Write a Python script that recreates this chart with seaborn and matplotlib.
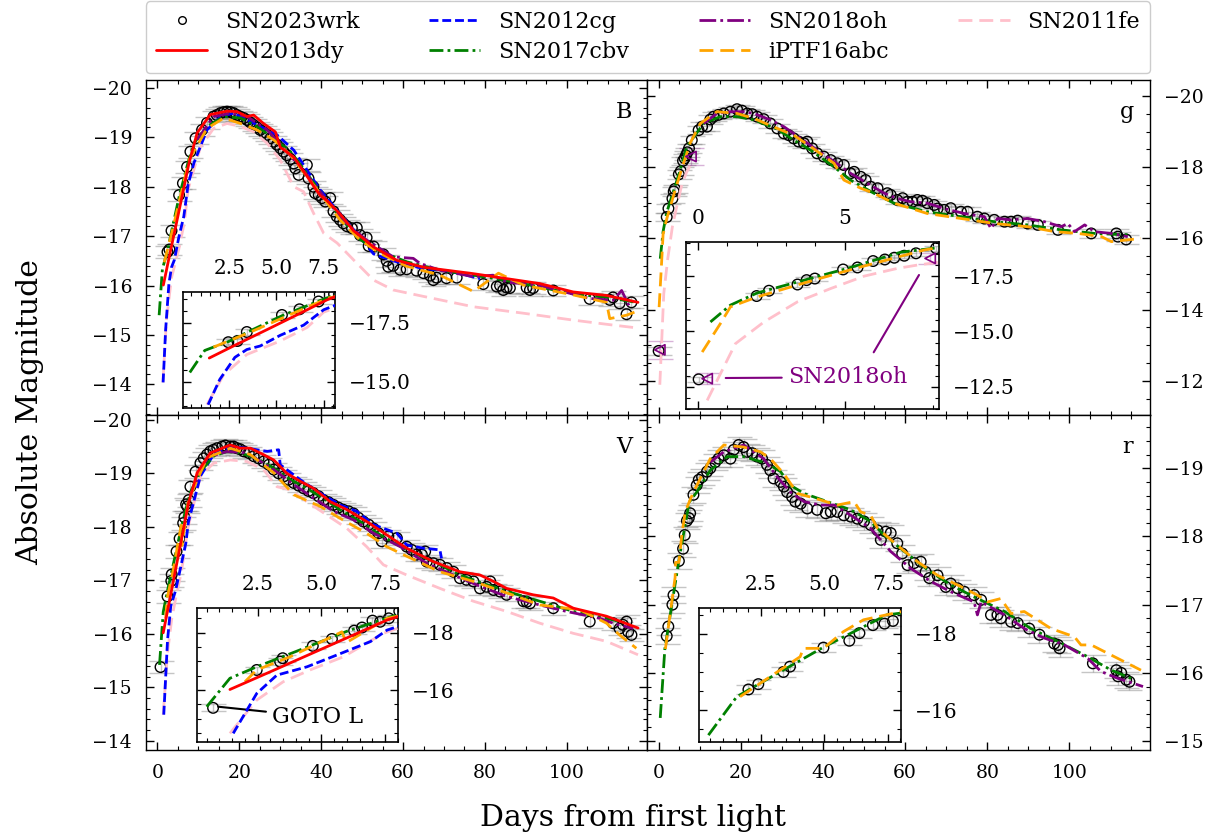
import numpy as np
import pandas as pd
import matplotlib
matplotlib.use("Agg")
import matplotlib.pyplot as plt
import seaborn as sns
from matplotlib.lines import Line2D
from matplotlib.ticker import MultipleLocator, AutoMinorLocator

sns.set_style("ticks", rc={
    "axes.edgecolor": "black", "xtick.color": "black", "ytick.color": "black",
    "text.color": "black", "axes.labelcolor": "black",
    "xtick.direction": "in", "ytick.direction": "in",
    "xtick.top": True, "ytick.right": True,
})
plt.rcParams["font.family"] = ["DejaVu Serif"]
plt.rcParams["mathtext.fontset"] = "dejavuserif"

# ---------------------------------------------------------------- B band
B_wrk_day = [2.45, 2.93, 3.43, 5.29, 6.22, 7.23, 8.05, 9.3, 10.9, 12.1, 13.7, 14.5, 15.4, 16.2, 17.0,
             17.8, 18.6, 19.4, 20.2, 21.1, 21.9, 22.7, 23.5, 24.3, 25.1, 26.0, 26.8, 27.6, 28.4, 29.2,
             30.0, 30.8, 31.6, 32.5, 33.3, 33.7, 34.5, 36.5, 36.9, 38.1, 38.5, 39.4, 40.2, 41.0, 42.2,
             43.0, 43.8, 44.6, 45.4, 46.3, 47.5, 48.7, 49.5, 51.1, 51.6, 52.8, 55.2, 56.0, 56.4, 57.6,
             59.3, 60.9, 63.3, 65.0, 66.6, 67.4, 68.2, 70.6, 73.1, 79.6, 82.9, 83.7, 84.5, 85.3, 86.1,
             90.2, 91.0, 91.8, 96.7, 105.6, 110.5, 111.3, 112.9, 114.6, 115.8]
B_wrk_mag = [-16.68, -16.73, -17.11, -17.83, -18.07, -18.40, -18.71, -18.98, -19.15, -19.29, -19.42,
             -19.45, -19.49, -19.51, -19.52, -19.51, -19.49, -19.45, -19.42, -19.39, -19.35, -19.30,
             -19.25, -19.20, -19.15, -19.10, -19.05, -18.98, -18.91, -18.85, -18.78, -18.71, -18.64,
             -18.56, -18.47, -18.37, -18.24, -18.44, -18.17, -18.00, -17.87, -17.83, -17.77, -17.70,
             -17.77, -17.50, -17.40, -17.33, -17.26, -17.20, -17.16, -17.17, -17.02, -16.97, -16.80,
             -16.79, -16.63, -16.50, -16.38, -16.40, -16.32, -16.33, -16.30, -16.25, -16.20, -16.11,
             -16.16, -16.15, -16.16, -16.03, -15.98, -16.00, -15.91, -15.96, -15.95, -15.96, -15.91,
             -15.95, -15.90, -15.73, -15.71, -15.76, -15.64, -15.42, -15.66]
B_13dy_day = [1.44, 3.0, 4.6, 6.2, 7.68, 9.7, 12.9, 17.0, 19.4, 21.9, 23.5, 25.9, 28.8, 30.0, 33.3,
              37.3, 38.9, 39.8, 41.4, 44.6, 47.9, 52.8, 58.5, 65.0, 77.2, 85.3, 93.4, 101.6, 109.7, 117.4]
B_13dy_mag = [-16.01, -16.63, -17.25, -17.88, -18.47, -19.09, -19.46, -19.53, -19.52, -19.42, -19.45,
              -19.28, -19.11, -18.80, -18.60, -18.12, -17.92, -17.82, -17.72, -17.45, -17.11, -16.78,
              -16.51, -16.37, -16.24, -16.14, -16.04, -15.87, -15.80, -15.66]
B_12cg_day = [1.38, 2.0, 2.8, 3.43, 4.14, 5.2, 6.44, 7.5, 8.9, 12.1, 15.4, 18.6, 21.9, 25.1, 29.2, 33.3,
              36.5, 39.8, 44.6, 49.5, 52.8, 57.6, 65.0, 70.6, 73.9, 78.8]
B_12cg_mag = [-14.04, -15.11, -16.04, -16.37, -16.52, -16.97, -17.40, -18.05, -18.48, -19.15, -19.42,
              -19.49, -19.35, -19.22, -19.05, -18.74, -18.34, -17.93, -17.45, -16.98, -16.64, -16.50,
              -16.34, -16.30, -16.24, -16.14]
B_17cbv_day = [0.41, 1.2, 1.66, 2.5, 3.5, 5.3, 7.5, 8.9, 12.1, 16.2, 20.3, 24.3, 28.4, 32.5, 36.5, 40.6,
               44.6, 48.7, 52.8, 60.9, 69.0, 77.2, 85.3, 93.4, 101.6, 109.7, 117.0]
B_17cbv_mag = [-15.40, -16.33, -16.47, -16.72, -17.12, -17.80, -18.50, -18.88, -19.22, -19.42, -19.39,
               -19.22, -18.98, -18.71, -18.27, -17.80, -17.39, -16.98, -16.75, -16.48, -16.31, -16.21,
               -16.10, -15.97, -15.83, -15.76, -15.66]
B_18oh_day = [9.7, 13.7, 17.8, 21.9, 26.8, 31.6, 36.5, 41.4, 46.3, 51.1, 57.6, 62.5, 64.1, 69.0, 77.2,
              82.0, 85.3, 93.4, 105.6, 111.3, 113.4, 115.4]
B_18oh_mag = [-18.95, -19.42, -19.49, -19.42, -19.15, -18.71, -18.24, -17.72, -17.25, -16.92, -16.58,
              -16.55, -16.45, -16.31, -16.18, -16.21, -16.07, -16.00, -15.74, -15.70, -15.90, -15.56]
B_16abc_day = [1.66, 3.6, 5.6, 7.76, 12.1, 16.2, 20.3, 24.3, 28.4, 32.5, 36.5, 40.6, 44.6, 49.5, 54.4,
               60.9, 69.0, 77.2, 83.3, 89.4, 101.6, 109.7, 110.5, 114.6, 117.8]
B_16abc_mag = [-16.47, -17.10, -17.80, -18.55, -19.18, -19.39, -19.28, -19.15, -18.95, -18.64, -18.21,
               -17.77, -17.33, -16.92, -16.65, -16.39, -16.21, -15.88, -16.25, -16.01, -15.81, -15.66,
               -15.33, -15.40, -15.50]
B_11fe_day = [1.32, 2.2, 3.43, 5.2, 6.62, 7.5, 10.5, 13.7, 17.0, 20.3, 23.5, 26.8, 30.0, 33.3, 35.7, 38.1,
              40.6, 43.9, 47.9, 52.8, 57.6, 65.0, 77.2, 89.4, 101.6, 111.3, 117.4]
B_11fe_mag = [-14.04, -15.30, -16.16, -16.73, -17.30, -17.95, -18.80, -19.18, -19.28, -19.22, -19.11,
              -18.88, -18.54, -18.00, -17.90, -17.47, -17.06, -16.86, -16.52, -16.11, -15.91, -15.78,
              -15.57, -15.44, -15.30, -15.20, -15.14]

# ---------------------------------------------------------------- V band
V_wrk_day = [0.75, 2.46, 3.38, 3.48, 4.66, 5.41, 6.28, 6.59, 7.0, 7.3, 7.64, 8.05, 9.3, 10.5, 11.3, 12.1,
             12.9, 13.7, 14.6, 15.8, 16.6, 17.8, 18.6, 19.4, 20.2, 21.1, 22.3, 23.5, 24.7, 25.9, 27.2,
             28.4, 29.6, 30.8, 32.0, 33.3, 34.5, 35.7, 36.9, 38.1, 39.4, 40.6, 41.8, 43.0, 44.2, 45.4,
             46.7, 47.9, 49.1, 50.3, 51.6, 52.8, 54.0, 54.8, 56.4, 58.5, 60.9, 62.1, 63.3, 64.6, 65.4,
             65.8, 67.4, 69.0, 70.7, 72.3, 73.9, 75.5, 77.2, 78.8, 80.4, 81.3, 82.1, 83.7, 85.3, 89.4,
             90.2, 91.0, 96.7, 105.6, 111.3, 112.9, 113.7, 114.6, 115.0, 115.8]
V_wrk_mag = [-15.38, -16.70, -16.99, -17.11, -17.54, -17.78, -18.07, -18.18, -18.42, -18.38, -18.50,
             -18.75, -19.03, -19.19, -19.28, -19.35, -19.41, -19.44, -19.47, -19.50, -19.52, -19.50,
             -19.50, -19.47, -19.45, -19.41, -19.38, -19.32, -19.28, -19.22, -19.16, -19.07, -19.00,
             -18.94, -18.88, -18.82, -18.77, -18.72, -18.67, -18.63, -18.57, -18.50, -18.46, -18.41,
             -18.36, -18.32, -18.29, -18.25, -18.17, -18.10, -18.04, -17.97, -17.88, -17.73, -17.82,
             -17.79, -17.63, -17.57, -17.48, -17.48, -17.54, -17.35, -17.32, -17.29, -17.23, -17.16,
             -17.04, -17.01, -16.98, -16.85, -16.88, -16.98, -16.82, -16.79, -16.73, -16.61, -16.60,
             -16.57, -16.48, -16.23, -16.20, -16.10, -16.17, -16.23, -16.04, -15.98]
V_13dy_day = [1.41, 3.0, 4.5, 6.0, 7.57, 9.7, 12.9, 17.8, 20.2, 22.7, 25.9, 28.4, 31.6, 34.9, 38.1, 42.2,
              46.3, 51.1, 56.0, 60.9, 67.4, 73.9, 78.8, 82.1, 85.3, 91.8, 96.7, 101.6, 109.7, 117.4]
V_13dy_mag = [-16.02, -16.64, -17.23, -17.82, -18.44, -19.01, -19.38, -19.53, -19.47, -19.47, -19.35,
              -19.25, -19.00, -18.85, -18.72, -18.47, -18.32, -18.10, -17.85, -17.60, -17.35, -17.16,
              -17.10, -16.98, -16.85, -16.73, -16.67, -16.48, -16.33, -16.11]
V_12cg_day = [1.54, 2.46, 3.25, 4.43, 5.74, 6.92, 7.57, 10.5, 13.7, 17.8, 21.9, 26.8, 29.6, 30.0, 34.9,
              39.8, 44.6, 48.7, 52.8, 58.5, 60.9, 65.0, 69.0, 69.4]
V_12cg_mag = [-14.49, -15.88, -16.52, -16.81, -17.27, -17.69, -18.09, -18.95, -19.35, -19.50, -19.47,
              -19.41, -19.44, -19.16, -18.88, -18.63, -18.41, -18.29, -18.04, -17.88, -17.66, -17.60,
              -17.57, -17.41]
V_17cbv_day = [0.5, 1.41, 2.46, 4.16, 6.0, 8.05, 10.5, 13.7, 17.0, 20.2, 24.3, 28.4, 32.5, 36.5, 40.6,
               44.6, 49.5, 54.4, 60.9, 67.4, 73.9, 80.4, 86.9, 93.4, 101.6, 109.7, 114.6]
V_17cbv_mag = [-15.42, -16.41, -16.81, -17.40, -18.05, -18.65, -19.03, -19.32, -19.41, -19.38, -19.28,
               -19.10, -18.88, -18.72, -18.53, -18.32, -18.10, -17.85, -17.57, -17.35, -17.10, -16.92,
               -16.76, -16.61, -16.42, -16.29, -16.20]
V_18oh_day = [8.05, 12.1, 17.0, 21.9, 28.4, 33.3, 38.1, 43.0, 47.9, 52.8, 59.3, 65.8, 72.3, 78.8, 85.3,
              93.4, 99.9, 108.1, 111.3, 116.2]
V_18oh_mag = [-18.60, -19.29, -19.41, -19.38, -19.07, -18.79, -18.54, -18.29, -18.13, -17.88, -17.63,
              -17.32, -17.10, -16.89, -16.70, -16.54, -16.42, -16.29, -16.20, -16.10]
V_16abc_day = [2.0, 2.46, 3.77, 5.8, 5.97, 7.57, 12.1, 17.8, 22.7, 28.4, 33.3, 39.8, 44.6, 51.1, 56.0,
               60.9, 69.0, 77.2, 82.1, 87.8, 93.4, 103.2, 109.7, 112.9, 117.0]
V_16abc_mag = [-16.29, -16.70, -17.16, -18.03, -17.65, -18.50, -19.29, -19.47, -19.35, -19.01, -18.60,
               -18.38, -18.16, -17.88, -17.63, -17.45, -17.16, -16.98, -16.85, -16.70, -16.54, -16.45,
               -16.20, -15.98, -15.73]
V_11fe_day = [1.41, 2.46, 3.5, 4.55, 5.86, 7.44, 10.5, 13.7, 17.8, 21.9, 25.9, 29.2, 32.5, 36.5, 41.4,
              46.3, 51.1, 55.2, 60.9, 69.0, 77.2, 85.3, 93.4, 101.6, 109.7, 117.4]
V_11fe_mag = [-14.49, -15.65, -16.29, -16.70, -17.16, -17.98, -18.94, -19.19, -19.25, -19.22, -19.07,
              -18.75, -18.69, -18.47, -18.22, -17.97, -17.63, -17.29, -17.10, -16.85, -16.61, -16.42,
              -16.20, -16.01, -15.86, -15.61]

# ---------------------------------------------------------------- g band
g_wrk_day = [0.03, 2.0, 2.42, 3.39, 3.7, 3.98, 4.94, 5.43, 5.96, 6.36, 6.68, 7.02, 7.42, 8.1, 9.76, 10.6,
             11.8, 12.6, 13.4, 14.6, 15.9, 17.5, 19.1, 20.3, 21.6, 22.8, 24.0, 25.6, 27.2, 28.9, 30.5,
             31.7, 32.9, 34.1, 35.4, 36.2, 37.4, 38.6, 40.2, 41.9, 43.5, 45.1, 46.7, 47.6, 49.2, 50.4,
             51.6, 53.3, 55.7, 56.5, 58.1, 59.4, 60.6, 61.8, 63.0, 64.2, 65.4, 67.1, 67.9, 69.5, 71.1,
             73.6, 75.2, 77.6, 79.3, 81.7, 84.2, 85.8, 87.4, 89.8, 92.3, 97.2, 105.3, 111.4, 111.8, 113.8]
g_wrk_mag = [-12.84, -16.60, -16.84, -17.12, -17.32, -17.39, -17.80, -17.89, -18.18, -18.25, -18.33,
             -18.42, -18.53, -18.76, -19.04, -19.14, -19.14, -19.34, -19.42, -19.47, -19.51, -19.56,
             -19.63, -19.59, -19.51, -19.49, -19.42, -19.35, -19.23, -19.09, -18.95, -18.90, -18.81,
             -18.72, -18.67, -18.72, -18.53, -18.39, -18.30, -18.20, -18.11, -18.06, -17.83, -17.87,
             -17.73, -17.64, -17.45, -17.41, -17.27, -17.22, -17.08, -17.13, -17.03, -17.03, -17.08,
             -17.06, -16.99, -16.94, -16.84, -16.80, -16.85, -16.75, -16.75, -16.61, -16.56, -16.52,
             -16.47, -16.47, -16.50, -16.42, -16.38, -16.24, -16.14, -16.14, -16.05, -15.97]
g_17cbv_day = [0.43, 1.11, 2.02, 5.09, 6.9, 10.98, 15.0, 19.1, 23.2, 28.9, 32.9, 37.0, 42.7, 46.7, 52.4,
               57.3, 65.4, 73.6, 81.7, 89.8, 98.0, 106.1, 114.2]
g_17cbv_mag = [-15.43, -16.19, -16.74, -17.85, -18.58, -19.23, -19.42, -19.42, -19.33, -19.07, -18.76,
               -18.48, -18.01, -17.64, -17.27, -16.99, -16.75, -16.61, -16.47, -16.38, -16.24, -16.14,
               -16.10]
g_18oh_day = [10.98, 14.2, 17.5, 20.7, 23.2, 27.2, 30.5, 34.6, 38.6, 42.7, 46.7, 50.8, 54.9, 58.1, 61.4,
              65.4, 69.5, 74.4, 79.3, 80.9, 82.5, 85.8, 89.8, 93.9, 98.0, 99.6, 101.2, 103.7, 106.1,
              110.2, 114.2]
g_18oh_mag = [-19.23, -19.51, -19.56, -19.56, -19.51, -19.33, -19.14, -18.81, -18.48, -18.16, -17.83,
              -17.55, -17.27, -17.12, -17.03, -16.99, -16.84, -16.70, -16.61, -16.28, -16.56, -16.52,
              -16.56, -16.47, -16.33, -16.42, -16.19, -16.38, -16.19, -16.14, -16.05]
g_18oh_tri_day = [0.32, 7.9]
g_18oh_tri_mag = [-12.87, -18.30]
g_16abc_day = [0.15, 0.77, 1.11, 2.02, 3.95, 5.5, 7.7, 10.2, 14.2, 19.1, 23.2, 28.9, 32.9, 37.0, 42.7,
               45.1, 49.2, 52.4, 57.3, 65.4, 73.6, 81.7, 89.8, 96.4, 102.1, 107.8, 110.2, 117.4]
g_16abc_mag = [-14.07, -15.36, -16.11, -16.56, -17.32, -17.90, -18.68, -19.23, -19.56, -19.51, -19.37,
               -19.09, -18.90, -18.58, -18.11, -17.64, -17.41, -17.27, -16.99, -16.70, -16.56, -16.42,
               -16.33, -16.19, -16.14, -16.05, -15.91, -16.00]
g_11fe_day = [0.32, 1.28, 2.25, 3.39, 4.52, 5.66, 6.79, 7.47, 8.5]
g_11fe_mag = [-11.89, -14.45, -15.43, -16.34, -16.94, -17.50, -17.85, -18.00, -18.18]

# ---------------------------------------------------------------- r band
r_wrk_day = [2.0, 2.39, 3.38, 3.64, 4.96, 5.98, 6.38, 6.91, 7.37, 7.7, 8.5, 9.3, 9.8, 10.6, 11.8, 12.6,
             13.8, 14.6, 15.9, 17.5, 18.3, 19.5, 20.7, 21.5, 22.8, 24.0, 25.2, 26.4, 27.2, 28.0, 29.7,
             30.5, 31.3, 32.5, 33.3, 34.6, 36.2, 38.6, 40.7, 41.9, 43.5, 45.1, 46.8, 48.4, 50.0, 51.6,
             53.3, 54.1, 55.3, 56.5, 58.1, 59.3, 60.6, 62.2, 63.8, 65.0, 65.9, 67.9, 69.9, 71.1, 72.8,
             74.4, 76.8, 78.5, 80.9, 82.5, 83.3, 85.8, 87.4, 90.2, 92.7, 96.3, 97.2, 97.6, 105.7, 111.4,
             111.8, 112.6, 113.8, 114.6]
r_wrk_mag = [-16.54, -16.68, -17.00, -17.14, -17.64, -17.82, -18.02, -18.23, -18.27, -18.34, -18.61,
             -18.75, -18.83, -18.87, -18.95, -19.00, -19.09, -19.14, -19.19, -19.14, -19.27, -19.34,
             -19.31, -19.24, -19.22, -19.17, -19.14, -19.05, -18.97, -18.85, -18.80, -18.73, -18.65,
             -18.58, -18.51, -18.48, -18.41, -18.39, -18.34, -18.36, -18.36, -18.31, -18.29, -18.26,
             -18.22, -18.17, -18.09, -17.95, -18.07, -18.05, -17.90, -17.75, -17.58, -17.61, -17.63,
             -17.48, -17.39, -17.43, -17.26, -17.31, -17.24, -17.19, -17.14, -17.07, -16.85, -16.85,
             -16.80, -16.75, -16.73, -16.65, -16.56, -16.43, -16.41, -16.36, -16.14, -16.04, -15.95,
             -16.00, -15.90, -15.87]
r_17cbv_day = [0.42, 1.54, 2.85, 4.96, 7.46, 9.3, 12.6, 16.7, 20.7, 26.4, 29.7, 32.1, 35.4, 41.1, 46.8,
               51.6, 54.9, 59.8, 65.5, 71.1, 77.6, 84.2, 90.6, 97.2, 103.7, 110.2, 115.0]
r_17cbv_mag = [-15.34, -16.35, -16.85, -17.65, -18.50, -18.65, -18.97, -19.17, -19.17, -19.07, -18.95,
               -18.75, -18.63, -18.51, -18.39, -18.22, -18.02, -17.78, -17.51, -17.29, -17.09, -16.90,
               -16.65, -16.46, -16.26, -16.04, -15.92]
r_18oh_day = [12.6, 15.9, 18.3, 20.7, 25.6, 28.9, 32.1, 35.4, 39.5, 42.8, 46.8, 51.6, 56.5, 61.4, 66.3,
              71.1, 76.8, 77.6, 78.5, 84.2, 89.0, 93.9, 98.8, 104.5, 107.7, 111.8, 117.9]
r_18oh_mag = [-19.09, -19.24, -19.29, -19.34, -19.14, -18.87, -18.65, -18.51, -18.46, -18.46, -18.31,
              -18.12, -17.78, -17.53, -17.34, -17.19, -17.04, -16.85, -17.04, -16.85, -16.65, -16.51,
              -16.41, -16.21, -16.02, -15.92, -15.80]
r_16abc_day = [1.67, 4.04, 4.17, 4.96, 5.75, 6.54, 7.72, 8.5, 12.6, 15.9, 20.7, 24.8, 27.2, 30.5, 33.8,
               38.6, 43.5, 47.6, 49.2, 51.6, 53.3, 58.1, 63.0, 67.9, 74.4, 77.6, 80.1, 83.3, 85.8, 89.0,
               95.5, 101.2, 102.8, 105.3, 110.2, 117.4]
r_16abc_mag = [-16.35, -17.40, -17.62, -17.62, -18.06, -18.37, -18.54, -18.65, -19.14, -19.34, -19.31,
               -19.24, -19.14, -18.92, -18.63, -18.55, -18.46, -18.51, -18.36, -18.31, -18.12, -17.87,
               -17.63, -17.43, -17.24, -17.14, -17.04, -17.09, -16.87, -16.90, -16.65, -16.53, -16.41,
               -16.41, -16.26, -16.04]

SN_NAMES = ["SN2023wrk", "SN2013dy", "SN2012cg", "SN2017cbv", "SN2018oh", "iPTF16abc", "SN2011fe"]
SN_COLORS = ["black", "red", "blue", "green", "purple", "orange", "pink"]
SN_STYLES = ["none", "-", (0, (3.2, 1.4)), (0, (5, 1.5, 1, 1.5)), (0, (6, 1.5, 1, 1.5)),
             (0, (5, 2.5)), (0, (5, 2.5))]

WRK_ERR = 0.12
TRI_ERR = 0.25

bands = {
    "B": dict(wrk=(B_wrk_day, B_wrk_mag),
              comps={"SN2011fe": (B_11fe_day, B_11fe_mag), "SN2012cg": (B_12cg_day, B_12cg_mag),
                     "SN2017cbv": (B_17cbv_day, B_17cbv_mag), "SN2018oh": (B_18oh_day, B_18oh_mag),
                     "iPTF16abc": (B_16abc_day, B_16abc_mag), "SN2013dy": (B_13dy_day, B_13dy_mag)}),
    "V": dict(wrk=(V_wrk_day, V_wrk_mag),
              comps={"SN2011fe": (V_11fe_day, V_11fe_mag), "SN2012cg": (V_12cg_day, V_12cg_mag),
                     "SN2017cbv": (V_17cbv_day, V_17cbv_mag), "SN2018oh": (V_18oh_day, V_18oh_mag),
                     "iPTF16abc": (V_16abc_day, V_16abc_mag), "SN2013dy": (V_13dy_day, V_13dy_mag)}),
    "g": dict(wrk=(g_wrk_day, g_wrk_mag),
              comps={"SN2011fe": (g_11fe_day, g_11fe_mag), "SN2017cbv": (g_17cbv_day, g_17cbv_mag),
                     "SN2018oh": (g_18oh_day, g_18oh_mag), "iPTF16abc": (g_16abc_day, g_16abc_mag)}),
    "r": dict(wrk=(r_wrk_day, r_wrk_mag),
              comps={"SN2017cbv": (r_17cbv_day, r_17cbv_mag), "SN2018oh": (r_18oh_day, r_18oh_mag),
                     "iPTF16abc": (r_16abc_day, r_16abc_mag)}),
}

style_of = {n: (c, s) for n, c, s in zip(SN_NAMES, SN_COLORS, SN_STYLES)}


def draw_band(ax, band):
    d, m = bands[band]["wrk"]
    ax.errorbar(d, m, yerr=WRK_ERR, fmt="none", ecolor="grey", alpha=0.45,
                elinewidth=1.0, capsize=9, capthick=1.0, zorder=1)
    sns.scatterplot(x=d, y=m, ax=ax, marker="o", s=58, facecolor="none",
                    edgecolor="black", linewidth=1.0, zorder=2, legend=False)
    for k, (name, (cd, cm)) in enumerate(bands[band]["comps"].items()):
        col, ls = style_of[name]
        sns.lineplot(x=cd, y=cm, ax=ax, color=col, linestyle=ls, lw=2.0, sort=False,
                     estimator=None, legend=False, zorder=3 + 0.1 * k)
    if band == "g":
        ax.errorbar(g_18oh_tri_day, g_18oh_tri_mag, yerr=TRI_ERR, fmt="none", ecolor="purple",
                    alpha=0.3, elinewidth=1.0, capsize=9, capthick=1.0, zorder=1)
        sns.scatterplot(x=g_18oh_tri_day, y=g_18oh_tri_mag, ax=ax, marker="<", s=55,
                        facecolor="none", edgecolor="purple", linewidth=1.2, zorder=4, legend=False)


W, H = 1231, 840
fig = plt.figure(figsize=(W / 100, H / 100), dpi=100)


def frac(x0, y0, x1, y1):
    return [x0 / W, 1 - y1 / H, (x1 - x0) / W, (y1 - y0) / H]


axB = fig.add_axes(frac(146, 80, 647, 415))
axg = fig.add_axes(frac(647, 80, 1150, 415), sharex=axB)
axV = fig.add_axes(frac(146, 415, 647, 750), sharex=axB)
axr = fig.add_axes(frac(647, 415, 1150, 750), sharex=axB)

main_limits = {"B": (-13.38, -20.16), "g": (-11.04, -20.45), "V": (-13.83, -20.09), "r": (-14.87, -19.78)}
main_major = {"B": 1, "g": 2, "V": 1, "r": 1}
panels = {"B": axB, "g": axg, "V": axV, "r": axr}

for band, ax in panels.items():
    draw_band(ax, band)
    ax.set_ylim(*main_limits[band])
    ax.yaxis.set_major_locator(MultipleLocator(main_major[band]))
    ax.yaxis.set_minor_locator(AutoMinorLocator())
    ax.set_xlabel("")
    ax.set_ylabel("")
    right = band in ("g", "r")
    bottom = band in ("V", "r")
    ax.tick_params(which="both", direction="in", top=True, bottom=True, left=True, right=True,
                   labelleft=not right, labelright=right, labelbottom=bottom, labeltop=False,
                   labelsize=13.5, pad=10)
    ax.tick_params(which="major", length=6, width=1.0)
    ax.tick_params(which="minor", length=3, width=0.8)
    for sp in ax.spines.values():
        sp.set_linewidth(1.0)
    ax.text(0.955, 0.905, band, transform=ax.transAxes, ha="center", va="center", fontsize=16)

axB.set_xlim(-2.8, 119.6)
axB.xaxis.set_major_locator(MultipleLocator(20))
axB.xaxis.set_minor_locator(AutoMinorLocator())

# zoomed views of the early rise
inset_spec = {
    "B": dict(box=(183, 292, 335, 408), xlim=(0.05, 8.1), ylim=(-13.9, -18.8), xmaj=2.5, ymaj=2.5),
    "g": dict(box=(686, 242, 939, 409), xlim=(-0.4, 8.2), ylim=(-11.5, -19.04), xmaj=5, ymaj=2.5),
    "V": dict(box=(197, 608, 398, 742), xlim=(0.12, 8.0), ylim=(-14.19, -18.86), xmaj=2.5, ymaj=2),
    "r": dict(box=(699, 608, 901, 742), xlim=(0.05, 8.02), ylim=(-15.16, -18.68), xmaj=2.5, ymaj=2),
}
insets = {}
for band, spec in inset_spec.items():
    ia = fig.add_axes(frac(*spec["box"]))
    ia.set_facecolor("white")
    draw_band(ia, band)
    ia.set_xlim(*spec["xlim"])
    ia.set_ylim(*spec["ylim"])
    ia.xaxis.set_major_locator(MultipleLocator(spec["xmaj"]))
    ia.yaxis.set_major_locator(MultipleLocator(spec["ymaj"]))
    ia.xaxis.set_minor_locator(AutoMinorLocator())
    ia.yaxis.set_minor_locator(AutoMinorLocator())
    ia.set_xlabel("")
    ia.set_ylabel("")
    ia.tick_params(which="both", direction="in", top=True, bottom=True, left=True, right=True,
                   labeltop=True, labelbottom=False, labelleft=False, labelright=True,
                   labelsize=14.5, pad=10)
    ia.tick_params(which="major", length=6, width=1.0)
    ia.tick_params(which="minor", length=3, width=0.8)
    for sp in ia.spines.values():
        sp.set_linewidth(1.2)
    insets[band] = ia

# labels pointing at individual early measurements
insets["g"].annotate("SN2018oh", xy=(0.95, -12.9), xytext=(3.06, -12.93), color="purple",
                     fontsize=16, ha="left", va="center",
                     arrowprops=dict(arrowstyle="-", color="purple", lw=1.5, shrinkA=2, shrinkB=0))
insets["g"].annotate("", xy=(7.52, -17.55), xytext=(5.98, -14.06),
                     arrowprops=dict(arrowstyle="-", color="purple", lw=1.5, shrinkA=0, shrinkB=0))
insets["V"].annotate("GOTO L", xy=(0.95, -15.42), xytext=(3.06, -15.06), color="black",
                     fontsize=16, ha="left", va="center",
                     arrowprops=dict(arrowstyle="-", color="black", lw=1.5, shrinkA=2, shrinkB=0))

handles = [Line2D([], [], marker="o", ls="none", mfc="none", mec="black", ms=5.5, mew=1.0)]
for name, col, ls in zip(SN_NAMES[1:], SN_COLORS[1:], SN_STYLES[1:]):
    handles.append(Line2D([], [], color=col, ls=ls, lw=2.0))
fig.legend(handles, SN_NAMES, loc="lower left", ncol=4, mode="expand",
           bbox_to_anchor=(146 / W, 1 - 73 / H, (1150 - 146) / W, 0.05), borderaxespad=0,
           fontsize=16, frameon=True, fancybox=True, edgecolor="0.8", framealpha=1,
           handlelength=2.3, labelspacing=0.35, borderpad=0.45)

fig.text(30 / W, 0.51, "Absolute Magnitude", rotation=90, ha="center", va="center", fontsize=21.5)
fig.text(633 / W, 1 - 818 / H, "Days from first light", ha="center", va="center", fontsize=21.5)

fig.savefig("out.png", dpi=100)
